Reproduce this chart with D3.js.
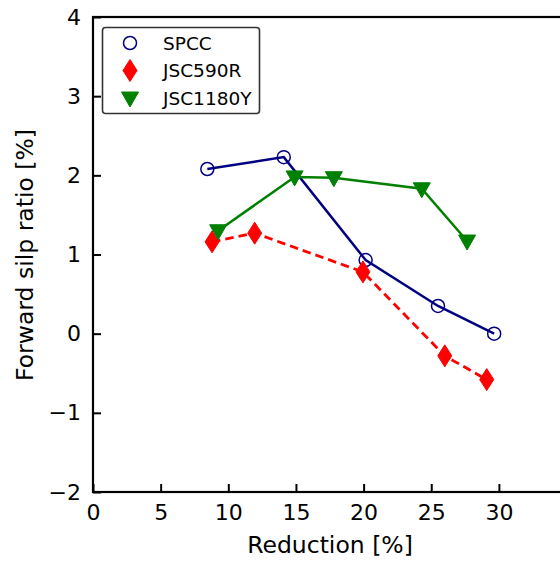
<!DOCTYPE html>
<html>
<head>
<meta charset="utf-8">
<script src="https://cdn.jsdelivr.net/npm/d3@7"></script>
<style>
html,body{margin:0;padding:0;background:#fff;overflow:hidden;}
svg{display:block;font-family:"DejaVu Sans",sans-serif;}
</style>
</head>
<body>
<svg id="chart" width="560" height="562"></svg>
<script>
const xTicks = [0, 5, 10, 15, 20, 25, 30];
const yTicks = [-2, -1, 0, 1, 2, 3, 4];
const seriesNames = ["SPCC", "JSC590R", "JSC1180Y"];
const spccX = [8.45, 14.1, 20.15, 25.5, 29.65];
const spccY = [2.08, 2.23, 0.93, 0.35, 0.0];
const jsc590X = [8.8, 11.95, 19.95, 26.0, 29.1];
const jsc590Y = [1.16, 1.27, 0.78, -0.28, -0.58];
const jsc1180X = [9.25, 14.9, 17.8, 24.3, 27.65];
const jsc1180Y = [1.30, 1.98, 1.97, 1.83, 1.17];

(function () {
const svg = d3.select("#chart");
const mLeft = 93, mTop = 17, mBottom = 492;
const x = d3.scaleLinear().domain([0, 35]).range([mLeft, mLeft + 35 * 13.53]);
const y = d3.scaleLinear().domain([-2, 4]).range([mBottom, mTop]);

const series = [
  {name: seriesNames[0], xs: spccX, ys: spccY, color: "#000080", marker: "circle", dash: null, w: 2.5},
  {name: seriesNames[1], xs: jsc590X, ys: jsc590Y, color: "#ff0000", marker: "diamond", dash: "8.5,5", w: 2.8},
  {name: seriesNames[2], xs: jsc1180X, ys: jsc1180Y, color: "#008000", marker: "tri", dash: null, w: 2.5}
];

function drawMarker(g, type, color) {
  if (type === "circle") {
    g.append("circle").attr("r", 6.5).attr("fill", "none").attr("stroke", color).attr("stroke-width", 1.5);
  } else if (type === "diamond") {
    g.append("path").attr("d", "M0,-11L7,0L0,11L-7,0Z").attr("fill", color).attr("stroke", color).attr("stroke-width", 1);
  } else {
    g.append("path").attr("d", "M-8.5,-6L8.5,-6L0,9Z").attr("fill", color).attr("stroke", color).attr("stroke-width", 1);
  }
}

const line = d3.line();
series.forEach(s => {
  const pts = s.xs.map((v, i) => [x(v), y(s.ys[i])]);
  svg.append("path").attr("d", line(pts)).attr("fill", "none")
    .attr("stroke", s.color).attr("stroke-width", s.w)
    .attr("stroke-dasharray", s.dash);
  pts.forEach(p => {
    const g = svg.append("g").attr("transform", `translate(${p[0]},${p[1]})`);
    drawMarker(g, s.marker, s.color);
  });
});

const xAxis = d3.axisBottom(x).tickValues(xTicks).tickSizeInner(-8).tickSizeOuter(0).tickPadding(12);
const gx = svg.append("g").attr("transform", `translate(0,${mBottom})`).call(xAxis);
const yAxis = d3.axisLeft(y).tickValues(yTicks).tickSizeInner(-8).tickSizeOuter(0).tickPadding(12)
  .tickFormat(d => d < 0 ? "\u2212" + Math.abs(d) : d);
const gy = svg.append("g").attr("transform", `translate(${mLeft},0)`).call(yAxis);
[gx, gy].forEach(g => {
  g.selectAll(".domain").remove();
  g.selectAll(".tick line").attr("stroke", "#000").attr("stroke-width", 2);
  g.selectAll(".tick text").attr("font-size", 22).attr("fill", "#000").attr("font-family", "DejaVu Sans");
});

const xr = x(35);
svg.append("rect").attr("x", mLeft).attr("y", mTop).attr("width", xr - mLeft).attr("height", mBottom - mTop)
  .attr("fill", "none").attr("stroke", "#000").attr("stroke-width", 2.2);

svg.append("text").attr("x", 330).attr("y", 553).attr("text-anchor", "middle")
  .attr("font-size", 23.5).text("Reduction [%]");
svg.append("text").attr("transform", "translate(33,255) rotate(-90)").attr("text-anchor", "middle")
  .attr("font-size", 23.5).text("Forward silp ratio [%]");

svg.append("rect").attr("x", 102.5).attr("y", 27.5).attr("width", 157).attr("height", 86)
  .attr("rx", 3).attr("fill", "#fff").attr("stroke", "#333").attr("stroke-width", 1.6);
series.forEach((s, i) => {
  const cy = 43 + i * 27.5;
  const g = svg.append("g").attr("transform", `translate(130,${cy})`);
  drawMarker(g, s.marker, s.color);
  svg.append("text").attr("x", 163).attr("y", cy + 6.5).attr("font-size", 18.5).text(s.name);
});
})();
</script>
</body>
</html>
